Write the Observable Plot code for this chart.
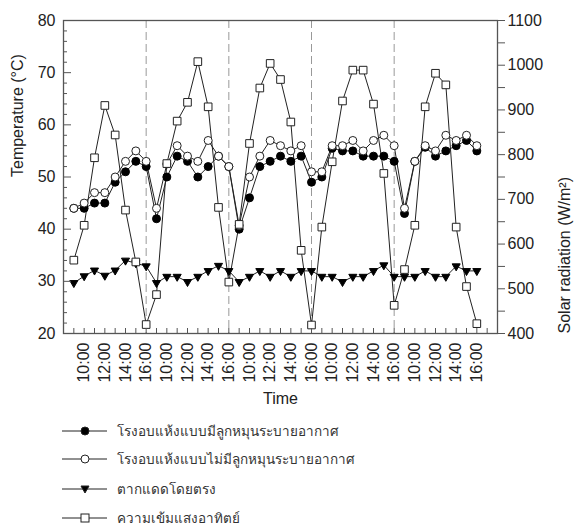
<!DOCTYPE html>
<html><head><meta charset="utf-8">
<script src="https://cdn.jsdelivr.net/npm/d3@7"></script>
<script src="https://cdn.jsdelivr.net/npm/@observablehq/plot@0.6"></script>
<style>
body{margin:0;background:#fff;font-family:"Liberation Sans",Arial,sans-serif;color:#222;}
#wrap{position:relative;width:574px;height:527px;overflow:hidden;}
#wrap svg.plot{position:absolute;left:0;top:0;}
.row{position:absolute;left:60px;height:24px;display:flex;align-items:center;font-size:13.5px;color:#333;}
.row span{margin-left:9px;white-space:nowrap;}
</style></head><body><div id="wrap"></div>
<script>
// categories
const days = [1, 2, 3, 4, 5];
const hours = [9, 10, 11, 12, 13, 14, 15, 16];
const tickHours = [10, 12, 14, 16];
const tickLabels = ["10:00", "12:00", "14:00", "16:00"];
const seriesNames = [
  "โรงอบแห้งแบบมีลูกหมุนระบายอากาศ",
  "โรงอบแห้งแบบไม่มีลูกหมุนระบายอากาศ",
  "ตากแดดโดยตรง",
  "ความเข้มแสงอาทิตย์"
];
// temperature (°C), 8 readings per day (09:00-16:00)
const withFan = [
  44, 44, 45, 45, 49, 51, 53, 52,
  42, 50, 54, 53, 50, 52, 54, 52,
  40, 46, 52, 53, 54, 53, 54, 49,
  50, 55.5, 55, 55, 54, 54, 54, 53,
  43, 53, 55.7, 54, 55, 56, 57, 55
];
const withoutFan = [
  44, 45, 47, 47, 50, 53, 55, 53,
  44, 52.5, 56, 54, 53, 57, 54, 52,
  40.7, 50, 54, 57, 56, 55, 56, 51,
  51, 56, 56, 57, 55, 57, 58, 56,
  44, 53, 56, 55, 58, 57, 58, 56
];
const openSun = [
  29.7, 31, 32.1, 31.1, 32.1, 34, 33.5, 32.9,
  29.7, 30.9, 30.9, 29.9, 30.9, 32, 33, 32,
  29.9, 30.9, 32, 30.9, 32, 30.9, 32, 32,
  30.9, 30.9, 29.9, 30.9, 30.9, 32, 33.1, 30.9,
  30.9, 30.9, 32, 30.9, 30.9, 32.9, 32, 32
];
// solar radiation (W/m2)
const radiation = [
  564, 642, 793, 910, 844, 676, 560, 420,
  487, 780, 875, 917, 1008, 907, 682, 515,
  644, 825, 949, 1004, 968, 873, 586, 419,
  638, 784, 920, 989, 989, 913, 758, 463,
  543, 642, 907, 982, 956, 638, 505, 422
];
const tempTicks = [20, 30, 40, 50, 60, 70, 80];
const radTicks = [400, 500, 600, 700, 800, 900, 1000, 1100];

const toT = r => 20 + (r - 400) * 60 / 700;
const toR = t => Math.round(400 + (t - 20) * 700 / 60);

const data = days.flatMap((d, di) => hours.map((h, hi) => {
  const k = di * hours.length + hi;
  return {i: di * 8 + (h - 9), fan: withFan[k], nofan: withoutFan[k], sun: openSun[k], rad: toT(radiation[k])};
}));
const dayEnds = days.slice(0, -1).map((d, di) => di * 8 + 7);
const labelPos = days.flatMap((d, di) => tickHours.map(h => di * 8 + h - 9));
const hourTicks = d3.range(0, 41);
const minorT = d3.range(22, 80, 2).filter(t => t % 10 !== 0);
const radAll = d3.range(400, 1101, 50);

const W = 574, H = 412, mL = 63, mR = 77, mT = 20, mB = 79;
const fw = W - mL - mR, fh = H - mT - mB;

const plot = Plot.plot({
  width: W, height: H,
  marginLeft: mL, marginRight: mR, marginTop: mT, marginBottom: mB,
  style: {fontFamily: "'Liberation Sans', Arial, sans-serif", fontSize: "16px", color: "#222", background: "#fff"},
  x: {domain: [-1, 41]},
  y: {domain: [20, 80]},
  marks: [
    Plot.ruleX(dayEnds, {x: d => d, stroke: "#999", strokeDasharray: "8,4", strokeWidth: 1}),
    Plot.line(data, {x: "i", y: "rad", stroke: "#222", strokeWidth: 1}),
    Plot.line(data, {x: "i", y: "sun", stroke: "#222", strokeWidth: 1}),
    Plot.line(data, {x: "i", y: "fan", stroke: "#222", strokeWidth: 1}),
    Plot.line(data, {x: "i", y: "nofan", stroke: "#222", strokeWidth: 1}),
    Plot.dot(data, {x: "i", y: "fan", r: 4, fill: "#000", stroke: "#000", strokeWidth: 1}),
    Plot.dot(data, {x: "i", y: "nofan", r: 4, fill: "#fff", stroke: "#222", strokeWidth: 1}),
    Plot.dot(data, {x: "i", y: "sun", r: 3, symbol: "triangle", rotate: 180, fill: "#000", stroke: "#000", strokeWidth: 1}),
    Plot.dot(data, {x: "i", y: "rad", r: 4.3, symbol: "square", fill: "#fff", stroke: "#222", strokeWidth: 1}),
    // inward ticks (left and bottom)
    Plot.tickY(tempTicks, {y: d => d, insetRight: fw - 8, stroke: "#555"}),
    Plot.tickY(minorT, {y: d => d, insetRight: fw - 4, stroke: "#555"}),
    Plot.tickX(hourTicks, {x: d => d, insetTop: fh - 5, stroke: "#555"}),
    Plot.frame({stroke: "#555", strokeWidth: 1.3}),
    // left axis labels
    Plot.axisY(tempTicks, {anchor: "left", tickSize: 0, tickPadding: 8, label: null, fontSize: 16}),
    // right axis
    Plot.axisY(radAll.map(toT), {anchor: "right", tickSize: 7, tickPadding: 3, label: null, fontSize: 16, stroke: "#555",
      tickFormat: t => { const r = toR(t); return radTicks.includes(r) ? String(r) : ""; }}),
    // bottom axis labels
    Plot.axisX(labelPos, {anchor: "bottom", tickSize: 0, tickPadding: 9, tickRotate: -90, label: null, fontSize: 16,
      tickFormat: i => tickLabels[tickHours.indexOf(9 + (i % 8))]}),
    // titles
    Plot.text(["Temperature (°C)"], {frameAnchor: "left", dx: -46, rotate: -90, fontSize: 16, fill: "#222"}),
    Plot.text(["Solar radiation (W/m²)"], {frameAnchor: "right", dx: 67, rotate: -90, fontSize: 16, fill: "#222"}),
    Plot.text(["Time"], {frameAnchor: "bottom", dy: 70, fontSize: 16, fill: "#222"})
  ]
});
plot.classList.add("plot");
const wrap = document.getElementById("wrap");
wrap.appendChild(plot);

// legend
const rowY = [431, 459, 489, 518];
const ns = "http://www.w3.org/2000/svg";
seriesNames.forEach((name, k) => {
  const row = document.createElement("div");
  row.className = "row";
  row.style.top = (rowY[k] - 12) + "px";
  const svg = document.createElementNS(ns, "svg");
  svg.setAttribute("width", 48); svg.setAttribute("height", 24);
  const line = document.createElementNS(ns, "line");
  line.setAttribute("x1", 2); line.setAttribute("x2", 47); line.setAttribute("y1", 12); line.setAttribute("y2", 12);
  line.setAttribute("stroke", "#222"); line.setAttribute("stroke-width", 1);
  svg.appendChild(line);
  let m;
  if (k === 0 || k === 1) {
    m = document.createElementNS(ns, "circle");
    m.setAttribute("cx", 25); m.setAttribute("cy", 12); m.setAttribute("r", 4);
    m.setAttribute("fill", k === 0 ? "#000" : "#fff");
  } else if (k === 2) {
    m = document.createElementNS(ns, "path");
    m.setAttribute("d", "M21,9L29,9L25,16Z");
    m.setAttribute("fill", "#000");
  } else {
    m = document.createElementNS(ns, "rect");
    m.setAttribute("x", 21); m.setAttribute("y", 8); m.setAttribute("width", 8); m.setAttribute("height", 8);
    m.setAttribute("fill", "#fff");
  }
  m.setAttribute("stroke", "#222"); m.setAttribute("stroke-width", 1);
  svg.appendChild(m);
  row.appendChild(svg);
  const span = document.createElement("span");
  span.textContent = name;
  row.appendChild(span);
  wrap.appendChild(row);
});
</script>
</body></html>
